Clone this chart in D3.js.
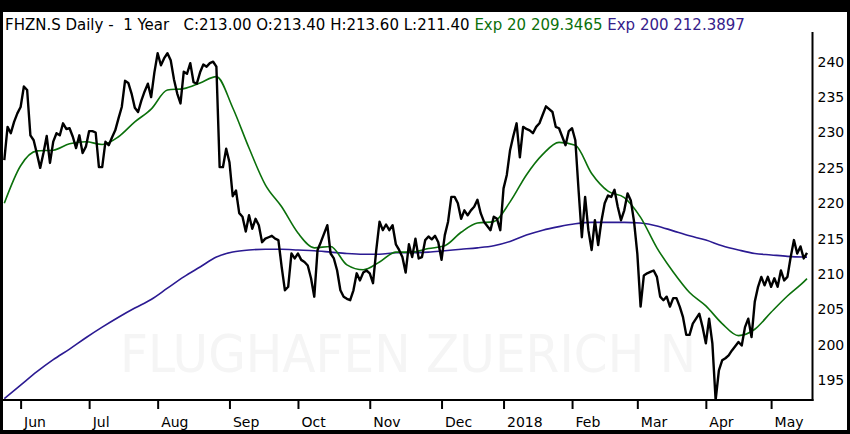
<!DOCTYPE html>
<html>
<head>
<meta charset="utf-8">
<script src="https://cdn.jsdelivr.net/npm/d3@7"></script>
<style>
  html, body { margin: 0; padding: 0; background: #000; }
  svg { display: block; }
</style>
</head>
<body>
<svg id="chart"></svg>
<script>
let width = 850
let height = 434

// daily closes, one per trading day
let closes = [
  226.1, 230.8, 229.9, 231.5, 232.7, 233.6, 236.5, 236.0, 229.6, 228.9,
  227.0, 225.0, 227.1, 229.5, 225.7, 228.7, 229.9, 229.6, 231.3, 230.5,
  230.6, 229.4, 227.8, 229.6, 227.1, 228.0, 230.2, 230.2, 230.0, 225.1,
  225.1, 228.7, 228.2, 229.3, 230.3, 232.0, 233.6, 237.3, 237.0, 235.5,
  233.5, 232.9, 234.5, 235.8, 236.9, 235.0, 238.5, 241.2, 239.5, 240.5,
  241.2, 240.2, 237.5, 235.5, 234.1, 238.6, 238.3, 239.8, 237.1, 236.9,
  238.5, 239.6, 239.3, 239.8, 240.0, 239.3, 225.1, 225.1, 227.7, 225.8,
  221.0, 221.8, 218.6, 218.1, 216.0, 218.3, 216.4, 217.8, 216.9, 214.5,
  215.0, 215.2, 215.4, 215.0, 214.8, 211.0, 207.7, 208.2, 212.9, 212.2,
  212.9, 212.0, 211.7, 211.2, 209.4, 206.8, 213.4, 214.5, 215.7, 216.9,
  212.9, 212.2, 210.5, 207.7, 206.8, 206.5, 206.3, 207.7, 210.1, 209.1,
  210.2, 210.5, 210.1, 208.7, 213.4, 217.4, 216.2, 217.0, 216.2, 216.9,
  214.2, 213.4, 212.4, 210.2, 214.2, 212.4, 215.0, 212.2, 212.4, 214.8,
  215.3, 214.9, 215.4, 214.5, 212.0, 215.5, 217.4, 220.9, 220.9, 220.0,
  217.8, 219.0, 218.3, 219.0, 219.5, 220.5, 218.6, 217.4, 216.8, 216.2,
  218.1, 217.8, 216.2, 222.1, 224.0, 227.5, 229.5, 231.3, 226.5, 230.8,
  230.5, 230.3, 229.9, 230.8, 231.3, 232.5, 233.7, 233.3, 232.9, 230.8,
  230.6, 229.4, 228.2, 230.2, 230.6, 228.9, 221.8, 215.2, 220.9, 216.2,
  213.4, 217.6, 214.1, 217.5, 220.0, 221.1, 220.9, 221.9, 219.5, 217.6,
  219.0, 221.4, 220.4, 217.4, 212.9, 205.4, 209.8, 210.1, 210.3, 210.5,
  209.6, 206.8, 206.3, 206.8, 205.4, 206.6, 206.6, 205.4, 203.9, 201.4,
  201.4, 203.0, 203.7, 204.4, 202.5, 200.2, 203.7, 200.2, 192.2, 196.4,
  197.8, 198.1, 198.5, 199.2, 199.8, 200.4, 199.9, 202.5, 203.7, 201.1,
  206.1, 208.2, 209.6, 208.4, 209.6, 208.2, 209.4, 208.2, 210.5, 209.1,
  209.6, 212.4, 214.8, 212.9, 213.9, 212.2, 213.0
]

// moving averages read every 5th trading day (plus the last day)
let emaIdx = d3.range(0, 246, 5).concat([246])
let ema20 = [
  220.0, 225.3, 227.4, 227.5, 228.4, 228.7, 228.3, 229.4, 231.5, 233.3,
  236.0, 236.2, 237.0, 237.9, 233.5, 227.8, 222.6, 219.5, 215.8, 213.7,
  213.9, 211.3, 210.6, 211.7, 213.1, 213.1, 213.6, 214.0, 215.9, 217.2,
  217.4, 220.2, 224.0, 226.9, 228.6, 228.2, 224.2, 221.7, 220.8, 218.0,
  213.7, 210.3, 207.4, 205.5, 203.0, 201.3, 202.2, 204.6, 206.9, 208.9,
  209.35
]
let ema200 = [
  192.4, 194.3, 196.2, 197.9, 199.4, 201.0, 202.5, 203.9, 205.2, 206.4,
  208.0, 209.6, 211.0, 212.4, 213.1, 213.4, 213.5, 213.5, 213.4, 213.3,
  213.1, 212.9, 212.8, 212.8, 213.0, 213.0, 213.1, 213.3, 213.5, 213.7,
  214.0, 214.6, 215.5, 216.2, 216.7, 217.1, 217.3, 217.3, 217.3, 217.2,
  216.8, 216.1, 215.4, 214.8, 214.0, 213.4, 212.9, 212.7, 212.5, 212.4,
  212.39
]

// first trading day of each month (index into closes)
let monthIdx = [5, 26, 47, 69, 90, 112, 134, 153, 174, 194, 215, 235]
let monthLabels = ['Jun', 'Jul', 'Aug', 'Sep', 'Oct', 'Nov', 'Dec', '2018', 'Feb', 'Mar', 'Apr', 'May']
let yTicks = [195, 200, 205, 210, 215, 220, 225, 230, 235, 240]

let header = [
  { text: 'FHZN.S Daily -\u00a0 1 Year\u00a0\u00a0 C:213.00 O:213.40 H:213.60 L:211.40 ', color: '#000' },
  { text: 'Exp 20 209.3465 ', color: '#0b700b' },
  { text: 'Exp 200 212.3897', color: '#35208a' }
]

let plot = { left: 3, right: 812.5, top: 32, bottom: 400 }

let svg = d3.select('#chart')
  .attr('width', width)
  .attr('height', height)
  .style('font-family', 'DejaVu Sans, Verdana, sans-serif')

svg.append('rect').attr('width', width).attr('height', height).attr('fill', '#000')
svg.append('rect')
  .attr('x', 3).attr('y', 12)
  .attr('width', 844).attr('height', 418)
  .attr('fill', '#fff')

let x = d3.scaleLinear()
  .domain([0, closes.length - 1])
  .range([4.3, 807])
let y = d3.scaleLinear()
  .domain([192.2, 244.2])
  .range([plot.bottom, plot.top])

// watermark
svg.append('text')
  .attr('x', 120)
  .attr('y', 372)
  .attr('textLength', 576)
  .attr('lengthAdjust', 'spacingAndGlyphs')
  .attr('font-size', 51)
  .attr('fill', '#f5f5f5')
  .text('FLUGHAFEN ZUERICH N')

svg.append('clipPath').attr('id', 'clip')
  .append('rect')
  .attr('x', plot.left).attr('y', plot.top)
  .attr('width', plot.right - plot.left).attr('height', plot.bottom - plot.top)

let g = svg.append('g').attr('clip-path', 'url(#clip)')

let emaLine = d3.line()
  .x((d, i) => x(emaIdx[i]))
  .y(d => y(d))
  .curve(d3.curveMonotoneX)

g.append('path')
  .datum(ema200)
  .attr('d', emaLine)
  .attr('fill', 'none')
  .attr('stroke', '#2b1a92')
  .attr('stroke-width', 1.6)

g.append('path')
  .datum(ema20)
  .attr('d', emaLine)
  .attr('fill', 'none')
  .attr('stroke', '#0b700b')
  .attr('stroke-width', 1.6)

g.append('path')
  .datum(closes)
  .attr('d', d3.line().x((d, i) => x(i)).y(d => y(d)))
  .attr('fill', 'none')
  .attr('stroke', '#000')
  .attr('stroke-width', 2.4)
  .attr('stroke-linejoin', 'round')

// x axis
let xAxis = d3.axisBottom(x)
  .tickValues(monthIdx)
  .tickSize(9)
  .tickFormat((d, i) => monthLabels[i])
let gx = svg.append('g')
  .attr('transform', `translate(0,${plot.bottom})`)
  .call(xAxis)
gx.select('.domain').remove()
gx.selectAll('.tick line').attr('stroke', '#000').attr('stroke-width', 2)
gx.selectAll('.tick text')
  .attr('text-anchor', 'start')
  .attr('x', 3)
  .attr('y', 0)
  .attr('dy', 27)
  .attr('fill', '#000')
  .style('font-size', '14px')
  .style('font-family', 'DejaVu Sans, sans-serif')

// y axis on the right
let yAxis = d3.axisRight(y)
  .tickValues(yTicks)
  .tickSize(0)
  .tickPadding(5)
let gy = svg.append('g')
  .attr('transform', `translate(${plot.right},0)`)
  .call(yAxis)
gy.select('.domain').remove()
gy.selectAll('.tick text')
  .attr('fill', '#000')
  .style('font-size', '14px')
  .style('font-family', 'DejaVu Sans, sans-serif')

// frame
svg.append('line')
  .attr('x1', plot.left).attr('x2', plot.right + 1)
  .attr('y1', plot.bottom).attr('y2', plot.bottom)
  .attr('stroke', '#000').attr('stroke-width', 2)
svg.append('line')
  .attr('x1', plot.right).attr('x2', plot.right)
  .attr('y1', plot.top).attr('y2', plot.bottom + 1)
  .attr('stroke', '#000').attr('stroke-width', 2)

// header line
let ht = svg.append('text')
  .attr('x', 5)
  .attr('y', 30)
  .attr('font-size', 15)
  .attr('xml:space', 'preserve')
ht.selectAll('tspan')
  .data(header)
  .join('tspan')
  .attr('fill', d => d.color)
  .text(d => d.text)
</script>
</body>
</html>
